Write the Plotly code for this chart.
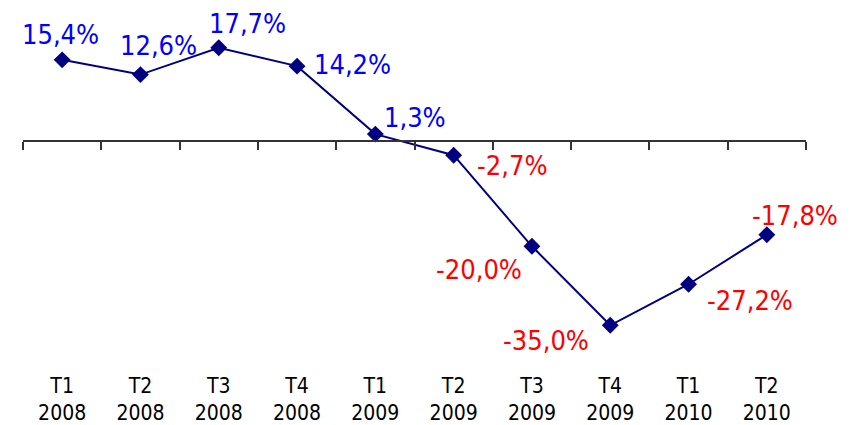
import plotly.graph_objects as go

quarters = ["T1<br>2008", "T2<br>2008", "T3<br>2008", "T4<br>2008", "T1<br>2009",
            "T2<br>2009", "T3<br>2009", "T4<br>2009", "T1<br>2010", "T2<br>2010"]
growth = [15.4, 12.6, 17.7, 14.2, 1.3, -2.7, -20.0, -35.0, -27.2, -17.8]

# decalage des etiquettes (pixels) par point
label_dx = [-2, 18, 29, 55, 40, 58, -53, -64, 61, 28]
label_dy = [25, 29, 24, 2, 17, -10, -23, -15, -16, 19]

FONT = "DejaVu Sans Condensed, Liberation Sans Narrow, DejaVu Sans, sans-serif"
Y_MIN, Y_MAX = -45.0, 25.24

fig = go.Figure()
fig.add_trace(go.Scatter(
    x=quarters, y=growth,
    mode="lines+markers",
    line=dict(color="#000080", width=2),
    marker=dict(symbol="diamond", size=13, color="#000080"),
    showlegend=False,
    hoverinfo="skip",
))

for q, v, dx, dy in zip(quarters, growth, label_dx, label_dy):
    fig.add_annotation(
        x=q, y=v, xref="x", yref="y",
        text=f"{v:.1f}%".replace(".", ","),
        showarrow=False,
        xshift=dx, yshift=dy,
        font=dict(family=FONT, size=27, color="#0000FF" if v >= 0 else "#FF0000"),
    )

# la page ajoute une marge de 8 px autour du graphique
fig.update_layout(
    width=844, height=417,
    margin=dict(l=15, r=46, t=0, b=47, autoexpand=False),
    paper_bgcolor="white",
    plot_bgcolor="rgba(0,0,0,0)",
    xaxis=dict(
        type="category",
        range=[-0.5, len(quarters) - 0.5],
        tickson="boundaries",
        ticks="outside", ticklen=8, tickwidth=1.5, tickcolor="#333333",
        showline=True, linecolor="#333333", linewidth=1.5,
        showgrid=False, zeroline=False,
        anchor="free",
        position=(0 - Y_MIN) / (Y_MAX - Y_MIN),
        automargin=False,
        ticklabelstandoff=226,
        tickfont=dict(family=FONT, size=21, color="black"),
    ),
    yaxis=dict(
        range=[Y_MIN, Y_MAX],
        visible=False,
        showgrid=False, zeroline=False,
        automargin=False,
    ),
)

fig.write_html("out.html")
